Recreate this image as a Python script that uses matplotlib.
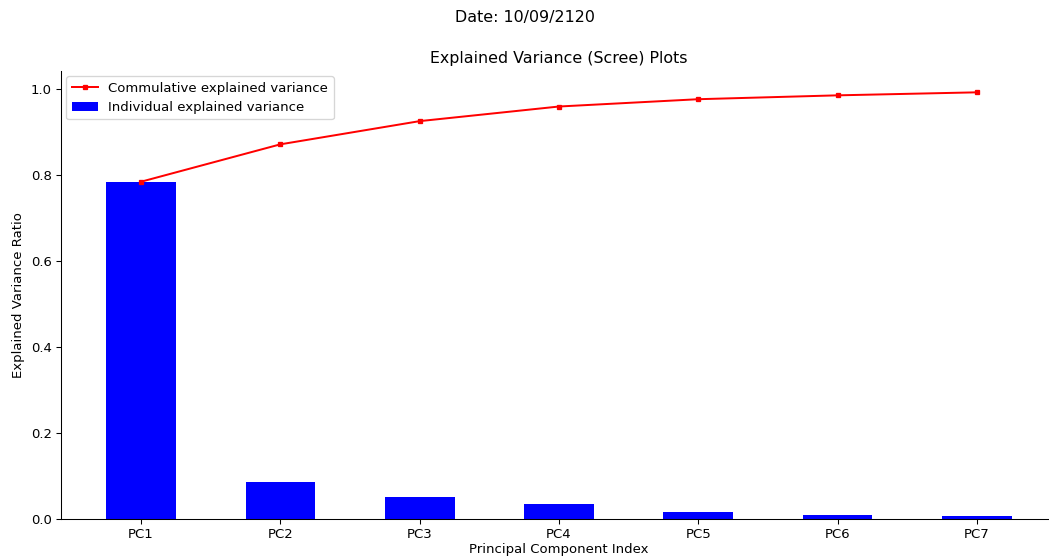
import matplotlib
matplotlib.use("Agg")
import matplotlib.pyplot as plt
import numpy as np

components = ["PC1", "PC2", "PC3", "PC4", "PC5", "PC6", "PC7"]
individual = [0.784, 0.086, 0.052, 0.034, 0.016, 0.010, 0.006]
cumulative = [0.785, 0.872, 0.926, 0.960, 0.977, 0.986, 0.993]

DPI = 95
fig = plt.figure(figsize=(1049/DPI, 558/DPI), dpi=DPI)
ax = fig.add_axes([61/1049, 39/558, 996/1049, 448/558])
x = np.arange(len(components))
ax.bar(x, individual, width=0.5, color="blue", label="Individual explained variance")
ax.plot(x, cumulative, color="red", marker="s", markersize=3, label="Commulative explained variance")
ax.set_xticks(x)
ax.set_xticklabels(components)
ax.tick_params(axis="x", pad=3)
ax.set_xlabel("Principal Component Index", labelpad=2)
ax.set_ylabel("Explained Variance Ratio")
ax.set_title("Explained Variance (Scree) Plots")
ax.spines["top"].set_visible(False)
ax.spines["right"].set_visible(False)
ax.legend(loc="upper left", borderaxespad=0.4)
fig.suptitle("Date: 10/09/2120", y=0.982)
fig.savefig("out.png", dpi=DPI)
